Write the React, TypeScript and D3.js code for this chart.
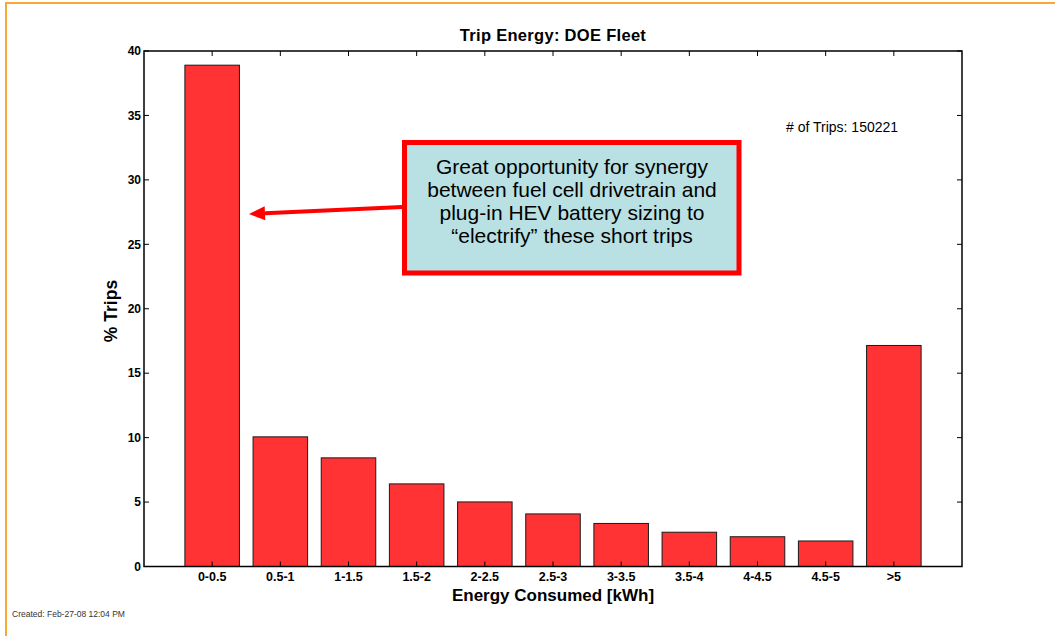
import React from "react";
import * as d3 from "d3";

// Trip energy histogram: share of trips per energy bin
const categories = ["0-0.5", "0.5-1", "1-1.5", "1.5-2", "2-2.5", "2.5-3", "3-3.5", "3.5-4", "4-4.5", "4.5-5", ">5"];
const tripShare = [38.9, 10.06, 8.43, 6.41, 5.01, 4.08, 3.34, 2.66, 2.31, 1.98, 17.15];
const yTicks = [0, 5, 10, 15, 20, 25, 30, 35, 40];
const noteLines = [
  "Great opportunity for synergy",
  "between fuel cell drivetrain and",
  "plug-in HEV battery sizing to",
  "\u201celectrify\u201d these short trips",
];

const W = 1055;
const H = 636;
const plot = { left: 144, top: 51, right: 962, bottom: 566.5 };
const font = "'Liberation Sans', Arial, sans-serif";

export default function App() {
  const x = d3.scaleLinear().domain([0, categories.length + 1]).range([plot.left, plot.right]);
  const y = d3.scaleLinear().domain([0, 40]).range([plot.bottom, plot.top]);
  const step = x(1) - x(0);
  const barW = step * 0.8;
  const tick = 5;

  const arrowStart = { x: 402, y: 207 };
  const arrowTip = { x: 249, y: 214 };
  const ang = Math.atan2(arrowTip.y - arrowStart.y, arrowTip.x - arrowStart.x);
  const headLen = 16;
  const headHalf = 7;
  const bx = arrowTip.x - headLen * Math.cos(ang);
  const by = arrowTip.y - headLen * Math.sin(ang);
  const px = -Math.sin(ang) * headHalf;
  const py = Math.cos(ang) * headHalf;

  return (
    <svg
      width={W}
      height={H}
      style={{ position: "absolute", left: 0, top: 0, background: "#fff" }}
      fontFamily={font}
    >
      <rect x={6} y={3} width={W + 10} height={H + 10} fill="none" stroke="#f9a833" strokeWidth={2} />

      {/* bars */}
      {tripShare.map((v, i) => (
        <rect
          key={categories[i]}
          x={x(i + 1) - barW / 2}
          y={y(v)}
          width={barW}
          height={y(0) - y(v)}
          fill="#ff3333"
          stroke="#1a1a1a"
          strokeWidth={1}
        />
      ))}

      {/* axes box */}
      <rect
        x={plot.left}
        y={plot.top}
        width={plot.right - plot.left}
        height={plot.bottom - plot.top}
        fill="none"
        stroke="#000"
        strokeWidth={1.5}
      />

      {/* y ticks (both sides, inward) */}
      {yTicks.map((t) => (
        <g key={t}>
          <line x1={plot.left} x2={plot.left + tick} y1={y(t)} y2={y(t)} stroke="#000" />
          <line x1={plot.right} x2={plot.right - tick} y1={y(t)} y2={y(t)} stroke="#000" />
          <text
            x={plot.left - 3}
            y={y(t)}
            dy="0.35em"
            textAnchor="end"
            fontSize={12}
            fontWeight="bold"
          >
            {t}
          </text>
        </g>
      ))}

      {/* x ticks (top and bottom, inward) */}
      {categories.map((c, i) => (
        <g key={c}>
          <line x1={x(i + 1)} x2={x(i + 1)} y1={plot.top} y2={plot.top + tick} stroke="#000" />
          <line x1={x(i + 1)} x2={x(i + 1)} y1={plot.bottom} y2={plot.bottom - tick} stroke="#000" />
          <text x={x(i + 1)} y={581} textAnchor="middle" fontSize={12.5} fontWeight="bold">
            {c}
          </text>
        </g>
      ))}

      <text x={(plot.left + plot.right) / 2} y={41} textAnchor="middle" fontSize={16.5} fontWeight="bold" letterSpacing={0.3}>
        Trip Energy: DOE Fleet
      </text>
      <text x={(plot.left + plot.right) / 2} y={601} textAnchor="middle" fontSize={17} fontWeight="bold">
        Energy Consumed [kWh]
      </text>
      <text
        transform={`translate(117, 311) rotate(-90)`}
        textAnchor="middle"
        fontSize={17.5}
        fontWeight="bold"
      >
        % Trips
      </text>

      <text x={786} y={132} fontSize={14}>
        # of Trips: 150221
      </text>

      <text x={12} y={617} fontSize={8.5} fill="#333">
        Created: Feb-27-08 12:04 PM
      </text>

      {/* callout arrow */}
      <line x1={arrowStart.x} y1={arrowStart.y} x2={bx} y2={by} stroke="#ff0000" strokeWidth={4} />
      <polygon
        points={`${arrowTip.x},${arrowTip.y} ${bx + px},${by + py} ${bx - px},${by - py}`}
        fill="#ff0000"
      />

      {/* callout box */}
      <rect x={404.5} y={142.5} width={334.5} height={130.5} fill="#b9e0e3" stroke="#ff0000" strokeWidth={5} />
      {noteLines.map((l, i) => (
        <text key={i} x={572} y={174 + i * 23} textAnchor="middle" fontSize={21} fill="#000">
          {l}
        </text>
      ))}
    </svg>
  );
}
